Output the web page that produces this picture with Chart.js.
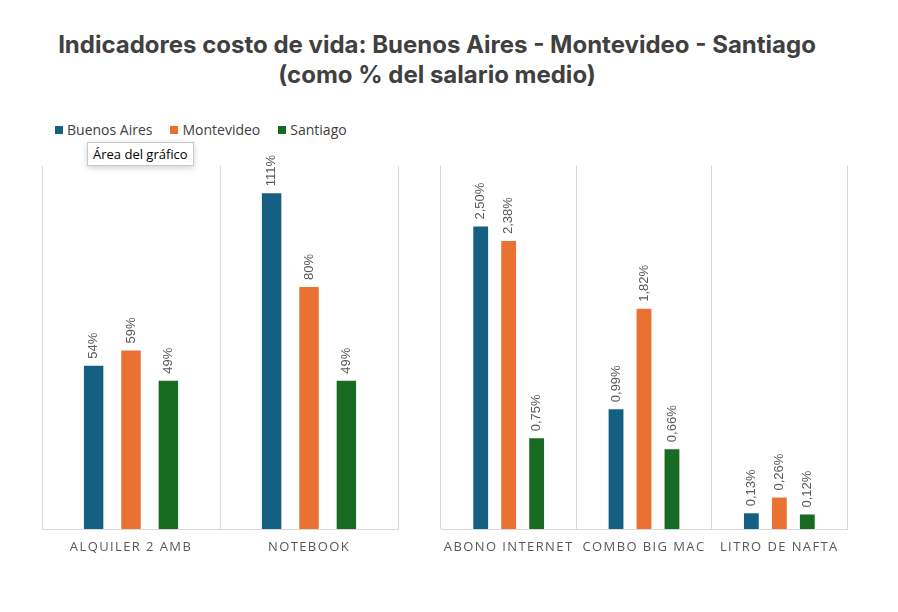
<!DOCTYPE html>
<html>
<head>
<meta charset="utf-8">
<script src="https://cdn.jsdelivr.net/npm/chart.js@4.4.1/dist/chart.umd.min.js"></script>
<style>
  body { margin: 0; background: #fff; width: 898px; height: 612px; position: relative; overflow: hidden; font-family: "Open Sans", sans-serif; }
  #titulo { position: absolute; left: 0; top: 30px; width: 874px; text-align: center; font-family: Inter, "Open Sans", sans-serif; font-weight: 700; font-size: 24px; line-height: 30px; color: #404040; }
  #leyenda { position: absolute; left: 55px; top: 120px; font-size: 14px; color: #404040; display: flex; gap: 0; }
  #leyenda span { display: inline-flex; align-items: center; margin-right: 18px; }
  #leyenda i { display: inline-block; width: 8px; height: 8px; margin-right: 4px; }
  #tip { position: absolute; left: 87px; top: 142px; padding: 2px 5px; border: 1px solid #c8c8c8; background: #fff; font-size: 13px; color: #000; box-shadow: 0 2px 6px rgba(0,0,0,0.18); }
  canvas { position: absolute; }
</style>
</head>
<body>
<div id="titulo">Indicadores costo de vida: Buenos Aires - Montevideo - Santiago<br>(como % del salario medio)</div>
<div id="leyenda"></div>
<div id="tip">Área del gráfico</div>
<canvas id="izq" style="left:30px; top:140px; width:380px; height:420px;"></canvas>
<canvas id="der" style="left:430px; top:140px; width:430px; height:420px;"></canvas>
<script>
// datos
const ciudades = ['Buenos Aires', 'Montevideo', 'Santiago'];
const colores = ['#156082', '#E97132', '#196B24'];

const catIzq = ['ALQUILER 2 AMB', 'NOTEBOOK'];
const baIzq = [54, 111];
const mvIzq = [59, 80];
const saIzq = [49, 49];

const catDer = ['ABONO INTERNET', 'COMBO BIG MAC', 'LITRO DE NAFTA'];
const baDer = [2.50, 0.99, 0.13];
const mvDer = [2.38, 1.82, 0.26];
const saDer = [0.75, 0.66, 0.12];

// leyenda
const ley = document.getElementById('leyenda');
ciudades.forEach((c, i) => {
  ley.innerHTML += `<span><i style="background:${colores[i]}"></i>${c}</span>`;
});

// etiquetas giradas arriba de cada barra
const etiquetas = {
  id: 'etiquetas',
  afterDatasetsDraw(chart, args, opts) {
    const ctx = chart.ctx;
    ctx.save();
    ctx.letterSpacing = '0px';
    ctx.font = '13px "Liberation Sans", Arial, sans-serif';
    ctx.fillStyle = '#595959';
    ctx.textAlign = 'left';
    ctx.textBaseline = 'middle';
    chart.data.datasets.forEach((ds, i) => {
      chart.getDatasetMeta(i).data.forEach((bar, j) => {
        ctx.save();
        ctx.translate(bar.x, bar.y - 7);
        ctx.rotate(-Math.PI / 2);
        ctx.fillText(opts.fmt(ds.data[j]), 0, 0);
        ctx.restore();
      });
    });
    ctx.restore();
  }
};

// espaciado de letras para las categorias
const espaciado = {
  id: 'espaciado',
  beforeDraw(chart) { chart.ctx.letterSpacing = '1.4px'; },
  afterDraw(chart) { chart.ctx.letterSpacing = '0px'; }
};

function grafico(id, cats, series, max, fmt, pad, catPct, barPct) {
  return new Chart(document.getElementById(id), {
    type: 'bar',
    data: {
      labels: cats,
      datasets: series.map((d, i) => ({
        label: ciudades[i],
        data: d,
        backgroundColor: colores[i],
        categoryPercentage: catPct,
        barPercentage: barPct
      }))
    },
    options: {
      responsive: false,
      animation: false,
      devicePixelRatio: 1,
      layout: { padding: pad },
      plugins: { legend: { display: false }, tooltip: { enabled: false }, etiquetas: { fmt: fmt } },
      scales: {
        x: {
          grid: { display: true, offset: true, color: '#d9d9d9', drawTicks: false },
          border: { display: true, color: '#d9d9d9' },
          ticks: { color: '#595959', font: { size: 13, family: '"Open Sans", sans-serif' }, padding: 10, maxRotation: 0, autoSkip: false },
          afterFit: s => { s.height = 31; }
        },
        y: { display: false, min: 0, max: max }
      }
    },
    plugins: [etiquetas, espaciado]
  });
}

grafico('izq', catIzq, [baIzq, mvIzq, saIzq], 120, v => v + '%',
  { left: 12, right: 12, top: 26, bottom: 0 }, 0.63, 0.52);
grafico('der', catDer, [baDer, mvDer, saDer], 3, v => v.toFixed(2).replace('.', ',') + '%',
  { left: 11, right: 13, top: 26, bottom: 0 }, 0.62, 0.53);
</script>
</body>
</html>
